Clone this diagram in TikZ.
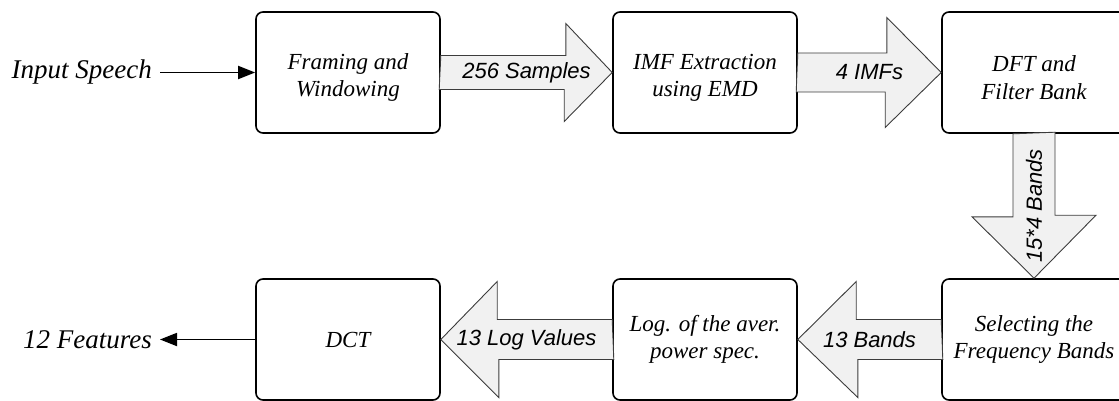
\documentclass[tikz,border=0pt]{standalone}
\usepackage{fontspec}
\setmainfont{Liberation Serif}
\setsansfont{Liberation Sans}
\usepackage{tikz}
\usetikzlibrary{arrows.meta}

\definecolor{arrfill}{HTML}{F1F1F1}
\definecolor{arrline}{HTML}{3C3C3C}

\newcommand{\lowline}{\rule{0pt}{26pt}}

\tikzset{
	procbox/.style={draw,line width=1.6pt,rounded corners=7pt,minimum width=184pt,minimum height=121pt,
		align=center,font=\fontsize{23}{27.5}\selectfont\itshape},
	blockarr/.style={draw=arrline,fill=arrfill,line width=0.9pt,line join=miter},
	arrlabel/.style={font=\fontsize{22}{26}\sffamily\itshape,inner sep=0pt},
	sigtext/.style={font=\fontsize{27}{31}\selectfont\itshape,inner sep=8pt},
	sigarrow/.style={line width=1.8pt,-{Triangle[length=17pt,width=13pt]}}
}

\begin{document}
\begin{tikzpicture}[x=1pt,y=-1pt]
			\clip (0,0) rectangle (1119,401);
			% processing blocks
			\node[procbox] (frame) at (348,72.5) {\lowline Framing and\\Windowing};
			\node[procbox] (imf) at (705,72.5) {\lowline IMF Extraction\\using EMD};
			\node[procbox] (dft) at (1034,72.5) {\lowline DFT and\\Filter Bank};
			\node[procbox] (sel) at (1034,339.5) {Selecting the\\Frequency Bands};
			\node[procbox] (logp) at (705,339.5) {Log. of the aver.\\power spec.};
			\node[procbox] (dct) at (348,339.5) {DCT};
			% in and out
			\node[sigtext,anchor=east] (inp) at (160,72.5) {Input Speech};
			\node[sigtext,anchor=east] (feat) at (160,339.5) {12 Features};
			\draw[sigarrow] (inp) -- (frame);
			\draw[sigarrow] (dct) -- (feat);
			% block arrows
			\draw[blockarr] (frame.east) ++(0,-17) -- ++(125,0) -- ++(0,-32) -- (imf.west) -- ++(-48,49) -- ++(0,-32) -- ++(-125,0) -- cycle;
			\draw[blockarr] (imf.east) ++(0,-19.5) -- ++(89,0) -- ++(0,-35.5) -- (dft.west) -- ++(-56,55) -- ++(0,-35.5) -- ++(-89,0) -- cycle;
			\draw[blockarr] (dft.south) ++(-21,0) -- ++(0,83) -- ++(-41,0) -- (sel.north) -- ++(62,-63) -- ++(-41,0) -- ++(0,-83) -- cycle;
			\draw[blockarr] (sel.west) ++(0,-20) -- ++(-85,0) -- ++(0,-38) -- (logp.east) -- ++(60,58) -- ++(0,-38) -- ++(85,0) -- cycle;
			\draw[blockarr] (logp.west) ++(0,-20) -- ++(-115,0) -- ++(0,-38) -- (dct.east) -- ++(58,58) -- ++(0,-38) -- ++(115,0) -- cycle;
			\path (frame) -- node[arrlabel] (l1) {256 Samples} (imf);
			\path (imf) -- node[arrlabel] (l2) {4 IMFs} (dft);
			\path (dft) -- node[arrlabel,rotate=90] (l3) {15*4 Bands} (sel);
			\path (sel) -- node[arrlabel] (l4) {13 Bands} (logp);
			\path (logp) -- node[arrlabel] (l5) {13 Log Values} (dct);
		\end{tikzpicture}
\end{document}
